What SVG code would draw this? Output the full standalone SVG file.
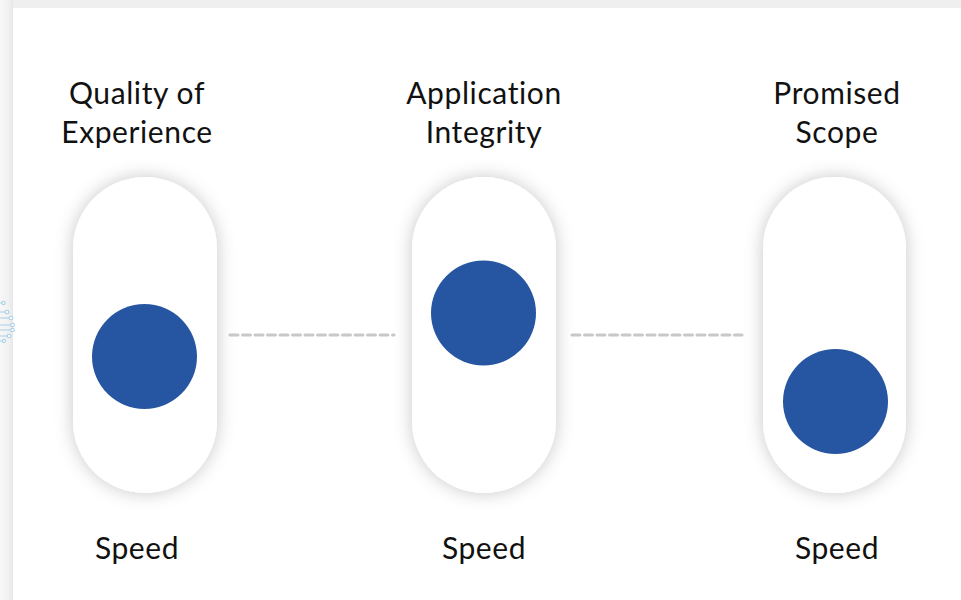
<svg xmlns="http://www.w3.org/2000/svg" width="961" height="600" viewBox="0 0 961 600">
<defs>
<linearGradient id="lband" x1="0" y1="0" x2="1" y2="0">
<stop offset="0" stop-color="#f7f7f7"/><stop offset="0.7" stop-color="#f0f0f0"/><stop offset="1" stop-color="#e6e6e6"/>
</linearGradient>
<filter id="sh" x="-30%" y="-20%" width="160%" height="140%">
<feDropShadow dx="0" dy="0" stdDeviation="9" flood-color="#000" flood-opacity="0.22"/>
</filter>
<style>
.t{font-family:Lato,"Liberation Sans",sans-serif;font-size:30px;letter-spacing:0.6px;fill:#111;text-anchor:middle}
.pill{fill:#fff;filter:url(#sh)}
.knob{fill:#2656a1}
.dash{stroke:#c8c8c8;stroke-width:3;stroke-dasharray:8 4.5;stroke-linecap:round;fill:none}
.ic{stroke:#a6d0e6;stroke-width:1.1;fill:none}
.icd{fill:#fff;stroke:#a6d0e6;stroke-width:1.1}
</style>
</defs>
<rect width="961" height="600" fill="#fff"/>
<rect x="0" y="0" width="961" height="8" fill="#efefef"/>
<rect x="0" y="0" width="13" height="600" fill="url(#lband)"/>
<g id="edge-icon">
<path class="ic" d="M0 303h3M0 312h6M0 318h10M0 325h12M0 330h12M0 336h8M0 341h3"/>
<circle class="icd" cx="3.5" cy="303" r="1.6"/>
<circle class="icd" cx="7" cy="312" r="1.8"/>
<circle class="icd" cx="11" cy="318" r="1.8"/>
<circle class="icd" cx="12.5" cy="325" r="1.8"/>
<circle class="icd" cx="12.5" cy="330" r="1.8"/>
<circle class="icd" cx="9" cy="336" r="1.8"/>
<circle class="icd" cx="4" cy="341" r="1.6"/>
</g>
<g id="connectors">
<line class="dash" x1="230" y1="335" x2="394" y2="335"/>
<line class="dash" x1="572" y1="335" x2="742" y2="335"/>
</g>
<g id="quality">
<text class="t" x="137" y="104">Quality of</text>
<text class="t" x="137" y="143">Experience</text>
<rect class="pill" x="73" y="177" width="144" height="316" rx="72"/>
<circle class="knob" cx="144.5" cy="356.5" r="52.5"/>
<text class="t" x="137" y="559">Speed</text>
</g>
<g id="integrity">
<text class="t" x="484" y="104">Application</text>
<text class="t" x="484" y="143">Integrity</text>
<rect class="pill" x="412" y="177" width="144" height="316" rx="72"/>
<circle class="knob" cx="483.5" cy="313" r="52.5"/>
<text class="t" x="484" y="559">Speed</text>
</g>
<g id="scope">
<text class="t" x="837" y="104">Promised</text>
<text class="t" x="837" y="143">Scope</text>
<rect class="pill" x="763" y="177" width="143" height="316" rx="71.5"/>
<circle class="knob" cx="835.5" cy="401.5" r="52.5"/>
<text class="t" x="837" y="559">Speed</text>
</g>
</svg>
